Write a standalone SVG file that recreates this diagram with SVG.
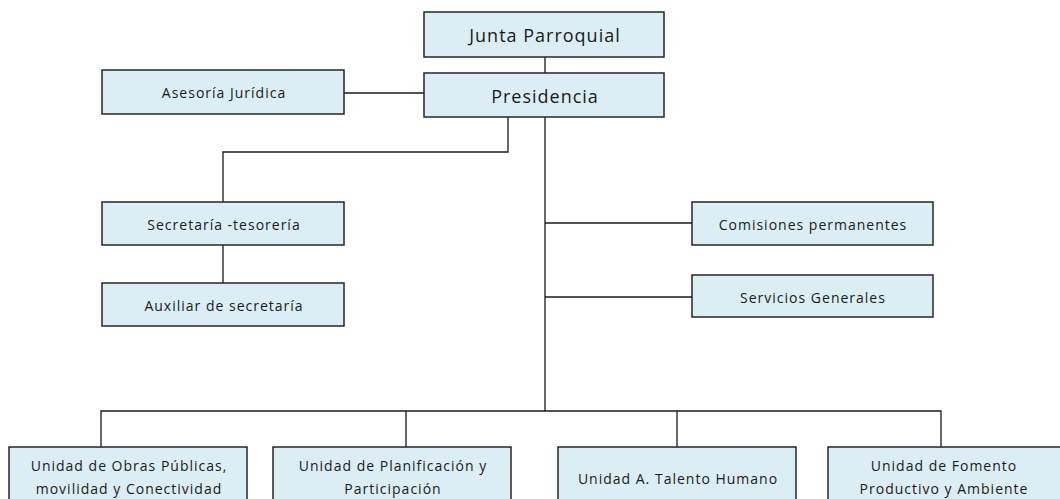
<svg xmlns="http://www.w3.org/2000/svg" width="1060" height="499" viewBox="0 0 1060 499">
<style>
.box{fill:#DAEEF3;stroke:#262626;stroke-width:1.5}
.t{font-family:"Open Sans","Liberation Sans",sans-serif;font-size:14px;letter-spacing:1px;fill:#1a1a1a;text-anchor:middle;dominant-baseline:central}
.big{font-size:18px;letter-spacing:1px}
.c{fill:none;stroke:#1a1a1a;stroke-width:1.3}
</style>
<rect width="1060" height="499" fill="#fff"/>
<g id="connectors">
<path class="c" d="M545 57V73"/>
<path class="c" d="M344 93H424"/>
<path class="c" d="M508 117V152H223V202"/>
<path class="c" d="M223 245V283"/>
<path class="c" d="M545 117V411"/>
<path class="c" d="M545 223H692"/>
<path class="c" d="M545 297H692"/>
<path class="c" d="M101 447V411H941V447"/>
<path class="c" d="M406 411V447"/>
<path class="c" d="M677 411V447"/>
</g>
<g id="junta"><rect class="box" x="424" y="12" width="240" height="45"/><text class="t big" x="545" y="35">Junta Parroquial</text></g>
<g id="presidencia"><rect class="box" x="424" y="73" width="240" height="44"/><text class="t big" x="545" y="96">Presidencia</text></g>
<g id="asesoria"><rect class="box" x="102" y="70" width="242" height="44"/><text class="t" x="224" y="92">Asesoría Jurídica</text></g>
<g id="secretaria"><rect class="box" x="102" y="202" width="242" height="43"/><text class="t" x="224" y="224">Secretaría -tesorería</text></g>
<g id="auxiliar"><rect class="box" x="102" y="283" width="242" height="43"/><text class="t" x="224" y="305">Auxiliar de secretaría</text></g>
<g id="comisiones"><rect class="box" x="692" y="202" width="241" height="43"/><text class="t" x="813" y="224">Comisiones permanentes</text></g>
<g id="servicios"><rect class="box" x="692" y="275" width="241" height="42"/><text class="t" x="813" y="297">Servicios Generales</text></g>
<g id="obras"><rect class="box" x="9" y="447" width="238" height="60"/><text class="t" x="129" y="465">Unidad de Obras Públicas,</text><text class="t" x="129" y="488">movilidad y Conectividad</text></g>
<g id="planificacion"><rect class="box" x="273" y="447" width="238" height="60"/><text class="t" x="393" y="465">Unidad de Planificación y</text><text class="t" x="393" y="488">Participación</text></g>
<g id="talento"><rect class="box" x="558" y="447" width="238" height="60"/><text class="t" x="678" y="478">Unidad A. Talento Humano</text></g>
<g id="fomento"><rect class="box" x="828" y="447" width="240" height="60"/><text class="t" x="944" y="465">Unidad de Fomento</text><text class="t" x="944" y="488">Productivo y Ambiente</text></g>
</svg>
